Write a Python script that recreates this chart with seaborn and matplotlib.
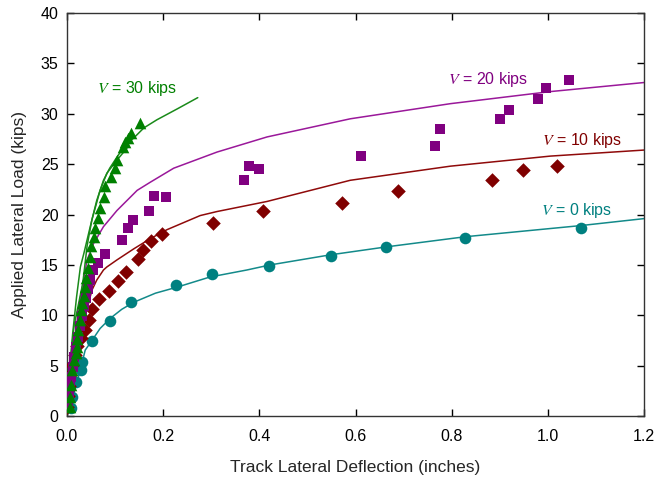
import matplotlib
matplotlib.use("Agg")
import matplotlib.pyplot as plt
import seaborn as sns
import pandas as pd

# Measured track deflection (in) and applied lateral load (kips) for each vertical load V
v0_x = [0.008, 0.010, 0.019, 0.030, 0.032, 0.053, 0.089, 0.134, 0.227, 0.302, 0.420, 0.549, 0.663, 0.828, 1.069]
v0_y = [0.8, 1.9, 3.4, 4.6, 5.4, 7.5, 9.4, 11.3, 13.0, 14.1, 14.9, 15.9, 16.8, 17.7, 18.7]

v10_x = [0.001, 0.002, 0.004, 0.007, 0.011, 0.016, 0.022, 0.029, 0.037, 0.046, 0.053, 0.067,
         0.088, 0.107, 0.122, 0.148, 0.159, 0.174, 0.197, 0.303, 0.407, 0.571, 0.689, 0.883,
         0.949, 1.018]
v10_y = [0.9, 2.0, 3.0, 4.1, 5.1, 6.1, 7.0, 7.8, 8.5, 9.5, 10.6, 11.6,
         12.4, 13.4, 14.3, 15.6, 16.5, 17.4, 18.1, 19.2, 20.4, 21.1, 22.3, 23.4,
         24.4, 24.8]

v20_x = [0.002, 0.004, 0.006, 0.009, 0.012, 0.015, 0.019, 0.023, 0.027, 0.031, 0.035, 0.039,
         0.043, 0.048, 0.055, 0.064, 0.079, 0.115, 0.126, 0.138, 0.171, 0.181, 0.207, 0.369,
         0.379, 0.399, 0.611, 0.766, 0.776, 0.901, 0.918, 0.979, 0.996, 1.043]
v20_y = [0.9, 1.9, 2.9, 3.9, 4.9, 5.9, 6.9, 7.9, 8.9, 9.9, 10.9, 11.7,
         12.6, 13.5, 14.5, 15.2, 16.1, 17.5, 18.7, 19.5, 20.4, 21.8, 21.7, 23.4,
         24.8, 24.5, 25.8, 26.8, 28.5, 29.5, 30.4, 31.5, 32.6, 33.3]

v30_x = [0.006, 0.006, 0.0075, 0.010, 0.014, 0.018, 0.021, 0.0215, 0.0225, 0.027, 0.030, 0.032,
         0.035, 0.037, 0.040, 0.043, 0.047, 0.051, 0.056, 0.059, 0.064, 0.068, 0.078, 0.080,
         0.0925, 0.099, 0.104, 0.116, 0.120, 0.126, 0.133, 0.152]
v30_y = [0.9, 1.9, 3.1, 4.6, 5.6, 6.3, 6.9, 7.7, 8.5, 9.5, 10.5, 11.2,
         11.9, 12.8, 13.7, 14.7, 15.8, 16.9, 17.8, 18.7, 19.7, 20.7, 21.7, 22.8,
         23.75, 24.6, 25.4, 26.7, 27.2, 27.6, 28.1, 29.1]

# Model curves
c0_x = [0.0, 0.007, 0.014, 0.024, 0.031, 0.038, 0.052, 0.069, 0.090, 0.114, 0.139, 0.184,
        0.229, 0.297, 0.374, 0.422, 0.547, 0.665, 0.828, 1.067, 1.2]
c0_y = [0.0, 1.0, 2.25, 3.9, 5.2, 6.55, 7.5, 8.7, 9.7, 10.6, 11.3, 12.2,
        12.8, 13.8, 14.5, 15.0, 16.0, 16.8, 17.8, 18.9, 19.6]

c10_x = [0.0, 0.013, 0.027, 0.038, 0.045, 0.052, 0.062, 0.076, 0.083, 0.104, 0.139, 0.173,
         0.208, 0.277, 0.312, 0.416, 0.589, 0.797, 1.005, 1.2]
c10_y = [0.0, 3.2, 6.6, 9.9, 11.2, 12.5, 13.5, 14.5, 14.8, 15.5, 16.6, 17.6,
         18.5, 19.9, 20.3, 21.3, 23.4, 24.8, 25.8, 26.4]

c20_x = [0.0, 0.003, 0.013, 0.027, 0.042, 0.055, 0.076, 0.104, 0.146, 0.173, 0.222, 0.312,
         0.416, 0.589, 0.797, 1.005, 1.2]
c20_y = [0.0, 1.6, 6.6, 11.5, 15.5, 17.1, 18.8, 20.4, 22.4, 23.2, 24.6, 26.2,
         27.7, 29.5, 31.0, 32.2, 33.1]

c30a_x = [0.0, 0.003, 0.006, 0.012, 0.020, 0.028, 0.035, 0.0485, 0.062, 0.076, 0.089, 0.104,
          0.120, 0.139, 0.160, 0.187, 0.230, 0.272]
c30a_y = [0.0, 2.5, 4.9, 8.2, 11.8, 14.8, 16.1, 18.8, 21.4, 23.4, 24.6, 25.7,
          26.8, 27.6, 28.6, 29.4, 30.5, 31.6]

c30b_x = [0.0, 0.006, 0.015, 0.033, 0.042, 0.052, 0.069, 0.083, 0.104, 0.125]
c30b_y = [0.0, 4.9, 9.0, 13.2, 16.9, 19.5, 22.4, 24.1, 25.4, 26.6]

series_colors = ["#008080", "#800000", "#800080", "#008000"]
line_colors = ["#138a8a", "#8f0a0a", "#9a189a", "#1a8a1a"]
series_markers = ["o", "D", "s", "^"]
marker_sizes = [70, 55, 55, 70]
label_text = [r"$V$ = 0 kips", r"$V$ = 10 kips", r"$V$ = 20 kips", r"$V$ = 30 kips"]
label_x = [0.986, 0.988, 0.792, 0.062]
label_y = [20.0, 26.9, 33.0, 32.1]

sns.set_theme(style="ticks")
plt.rcParams["font.family"] = ["Liberation Sans", "DejaVu Sans"]
plt.rcParams["mathtext.fontset"] = "stix"

fig = plt.figure(figsize=(6.56, 4.8), dpi=100)
ax = fig.add_axes([0.102, 0.133, 0.880, 0.840])

curves = [(c0_x, c0_y, 0), (c10_x, c10_y, 1), (c20_x, c20_y, 2), (c30a_x, c30a_y, 3), (c30b_x, c30b_y, 3)]
for cx, cy, k in curves:
    sns.lineplot(data=pd.DataFrame({"x": cx, "y": cy}), x="x", y="y", sort=False,
                 estimator=None, color=line_colors[k], linewidth=1.1, ax=ax, zorder=2)

points = [(v0_x, v0_y), (v10_x, v10_y), (v20_x, v20_y), (v30_x, v30_y)]
for k, (px, py) in enumerate(points):
    sns.scatterplot(data=pd.DataFrame({"x": px, "y": py}), x="x", y="y",
                    marker=series_markers[k], s=marker_sizes[k], color=series_colors[k],
                    linewidth=0, ax=ax, zorder=3 + k)

for k in range(4):
    ax.text(label_x[k], label_y[k], label_text[k], color=series_colors[k],
            fontsize=11.5, ha="left", va="baseline")

ax.set_xlim(0, 1.2)
ax.set_ylim(0, 40)
ax.set_xticks([0.0, 0.2, 0.4, 0.6, 0.8, 1.0, 1.2])
ax.set_xticklabels(["0.0", "0.2", "0.4", "0.6", "0.8", "1.0", "1.2"])
ax.set_yticks(range(0, 41, 5))
ax.tick_params(direction="in", top=True, right=True, length=5, width=1,
               labelsize=11.5, colors="black", pad=6)
ax.tick_params(axis="x", pad=9)
for s in ax.spines.values():
    s.set_visible(True)
    s.set_linewidth(1.0)
    s.set_color("#333333")
ax.set_xlabel("Track Lateral Deflection (inches)", fontsize=12.5, labelpad=12)
ax.set_ylabel("Applied Lateral Load (kips)", fontsize=12.5, labelpad=10)

fig.savefig("out.png", dpi=100)
